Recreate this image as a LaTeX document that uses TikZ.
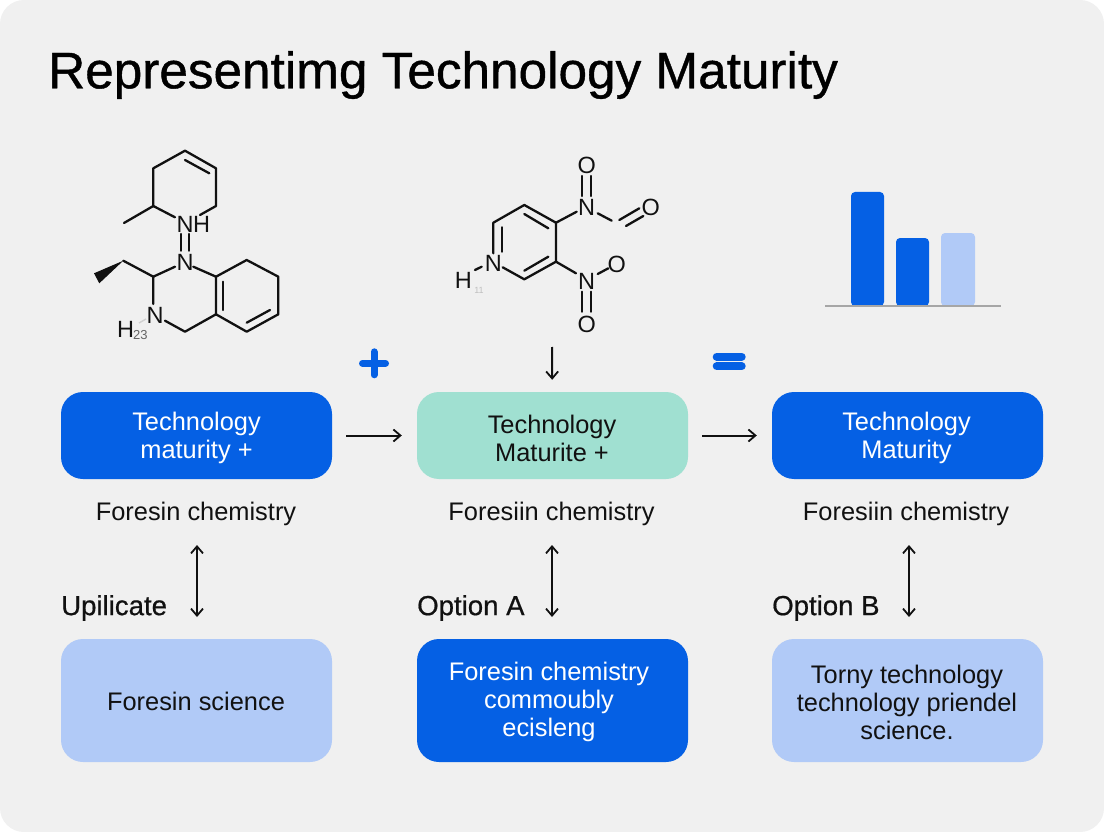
\documentclass[tikz,border=0pt]{standalone}
\usepackage{fontspec}
\setmainfont{Liberation Sans}
\newfontfamily\medfont[FakeBold=0.8]{Liberation Sans}
\newfontfamily\optfont[FakeBold=0.6]{Liberation Sans}
\usetikzlibrary{arrows.meta}
\definecolor{pagebg}{HTML}{F0F0F0}
\definecolor{bluebox}{HTML}{0560E4}
\definecolor{tealbox}{HTML}{A0E0D1}
\definecolor{lightbox}{HTML}{B1CAF7}
\definecolor{ink}{HTML}{111111}
\tikzset{
  box/.style={rounded corners=22pt,minimum width=271pt,inner sep=0pt},
  rowa/.style={box,minimum height=87pt},
  rowb/.style={box,minimum height=123pt},
  fillblue/.style={fill=bluebox},
  fillteal/.style={fill=tealbox},
  filllight/.style={fill=lightbox},
  boxtext/.style={align=center,inner sep=0pt,font=\fontsize{25.4}{28}\selectfont},
  caption/.style={font=\fontsize{25.4}{28}\selectfont,text=ink,inner sep=0pt},
  optlabel/.style={font=\fontsize{27.6}{30}\optfont,text=ink,inner sep=0pt,anchor=west},
  barb/.style={Straight Barb[length=7pt,width=12pt,line width=1.8pt]},
  conn/.style={draw=ink,line width=2pt,-{Straight Barb[length=7pt,width=12pt,line width=1.8pt]}},
  dconn/.style={draw=ink,line width=2pt,{Straight Barb[length=7pt,width=12pt,line width=1.8pt]}-{Straight Barb[length=7pt,width=12pt,line width=1.8pt]}},
  bond/.style={draw=ink,line width=2.3pt,line cap=round,line join=round},
  faint/.style={draw=black!18,line width=1.4pt},
  atom/.style={font=\fontsize{23.5}{23.5}\selectfont,text=ink,inner sep=0pt},
}
\begin{document}
\begin{tikzpicture}[x=1pt,y=-1pt]
\useasboundingbox (0,0) rectangle (1104,832);
\fill[white] (0,0) rectangle (1104,832);
\fill[pagebg,rounded corners=24pt] (0,0) rectangle (1104,832);
\node[anchor=west,inner sep=0pt,text=black,font=\fontsize{51.3}{51.3}\medfont] (title) at (48,75) {Representimg Technology Maturity};

% molecule 1
\draw[bond] (175,217.3) -- (153.3,206) -- (153.3,168.3) -- (185,150.7) -- (216,168.3) -- (216,206) -- (200,215);
\draw[bond] (185,160) -- (209.3,173.3);
\draw[bond] (153.3,206) -- (124,223);
\node[atom] (n1) at (185,224.5) {N};
\node[atom] (h1) at (201.5,224.5) {H};
\draw[bond] (181,234) -- (181,250.7);
\draw[bond] (189,234) -- (189,250.7);
\node[atom] (n2) at (185,262.5) {N};
\draw[bond] (175,266.7) -- (153.3,276.7) -- (153.3,304);
\draw[bond] (153.3,276.7) -- (123.3,260.7);
\fill[ink] (123.3,260.7) -- (94,273.3) -- (99.3,283.3) -- cycle;
\draw[bond] (193.3,266.7) -- (216,276.7) -- (216,314.3) -- (185,331.7) -- (165,320.7);
\draw[bond] (216,276.7) -- (246.7,260) -- (278.3,276.7) -- (278.3,314.3) -- (246.7,331.7) -- (216,314.3);
\draw[bond] (223.3,281.7) -- (223.3,310);
\draw[bond] (246.7,322.7) -- (270,310);
\node[atom] (n3) at (155,315) {N};
\node[atom,anchor=west] (h3) at (117,329) {H};
\node[anchor=west,inner sep=0pt,font=\fontsize{13}{13}\selectfont,text=ink!65] (h3s) at (133,335) {23};
\draw[faint] (139,323) -- (146,319);

% molecule 2
\draw[bond] (493.3,253.3) -- (493.3,222.7) -- (524.3,205) -- (556,222.7) -- (556,261.7) -- (524.3,279.3) -- (502.7,267.3);
\draw[bond] (501.7,227.3) -- (501.7,251.7);
\draw[bond] (524.3,214) -- (548.3,228.3);
\draw[bond] (524.3,270.7) -- (548.3,256.7);
\node[atom] (n4) at (493.3,263.5) {N};
\node[atom] (h4) at (463.3,280) {H};
\node[inner sep=0pt,font=\fontsize{9}{9}\selectfont,text=black!25] (h4s) at (479,290) {11};
\draw[bond] (475,270) -- (481.7,266.7);
\node[atom] (n5) at (586.7,207.7) {N};
\node[atom] (n6) at (586.7,281) {N};
\node[atom] (o1) at (586.7,165) {O};
\node[atom] (o2) at (650.7,207.3) {O};
\node[atom] (o3) at (616.7,264) {O};
\node[atom] (o4) at (586.7,324) {O};
\draw[bond] (556,222.7) -- (576.7,211.7);
\draw[bond] (582,176) -- (582,196);
\draw[bond] (591,176) -- (591,196);
\draw[bond] (597.7,213.3) -- (611.7,220.7);
\draw[bond] (619.3,220) -- (639.3,208.3);
\draw[bond] (626,226) -- (643.3,216);
\draw[bond] (556,261.7) -- (576,273.3);
\draw[bond] (597.7,274) -- (608.3,268.3);
\draw[bond] (582,291.7) -- (582,311.7);
\draw[bond] (591,291.7) -- (591,311.7);

% bar chart
\fill[bluebox,rounded corners=4pt] (851,306) -- (851,192) -- (884,192) -- (884,306) -- cycle;
\fill[bluebox,rounded corners=4pt] (896,306) -- (896,238) -- (929,238) -- (929,306) -- cycle;
\fill[lightbox,rounded corners=4pt] (941,306) -- (941,233) -- (975,233) -- (975,306) -- cycle;
\draw[draw=black!35,line width=1.5pt] (825,306) -- (1001,306);

% plus / equals
\draw[draw=bluebox,line width=7pt,line cap=round] (362.5,363.3) -- (385.5,363.3);
\draw[draw=bluebox,line width=7pt,line cap=round] (374,351.8) -- (374,374.8);
\draw[draw=bluebox,line width=8pt,line cap=round] (716.7,356.7) -- (741.7,356.7);
\draw[draw=bluebox,line width=8pt,line cap=round] (716.7,366.3) -- (741.7,366.3);

% boxes
\node[rowa,fillblue] (a1) at (196.5,435.5) {};
\node[rowa,fillteal] (a2) at (552.5,435.5) {};
\node[rowa,fillblue] (a3) at (907.5,435.5) {};
\node[rowb,filllight] (b1) at (196.5,700.5) {};
\node[rowb,fillblue] (b2) at (552.5,700.5) {};
\node[rowb,filllight] (b3) at (907.5,700.5) {};
\node[boxtext,text=white] (a1t) at (196.5,438) {Technology\\maturity +};
\node[boxtext,text=ink] (a2t) at (552,438) {Technology\\Maturite +};
\node[boxtext,text=white] (a3t) at (906.5,438) {Technology\\Maturity};
\node[boxtext,text=ink] (b1t) at (196,701.5) {Foresin science};
\node[boxtext,text=white] (b2t) at (549,702) {Foresin chemistry\\commoubly\\ecisleng};
\node[boxtext,text=ink] (b3t) at (907,702) {Torny technology\\technology priendel\\science.};

\node[caption] (c1) at (196,514) {Foresin chemistry};
\node[caption] (c2) at (551.5,514) {Foresiin chemistry};
\node[caption] (c3) at (906,514) {Foresiin chemistry};
\node[optlabel] (o1l) at (61,608) {Upilicate};
\node[optlabel] (o2l) at (417,608) {Option A};
\node[optlabel] (o3l) at (772,608) {Option B};

% connectors
\coordinate (top2) at (552,347);
\coordinate (s1) at (197,545);
\coordinate (e1) at (197,617);
\coordinate (s2) at (552,545);
\coordinate (e2) at (552,617);
\coordinate (s3) at (909,545);
\coordinate (e3) at (909,617);
\draw[conn,shorten <=14pt,shorten >=15pt] (a1) -- (a2);
\draw[conn,shorten <=14pt,shorten >=15pt] (a2) -- (a3);
\draw[conn,shorten >=12pt] (top2) -- (a2);
\draw[dconn] (s1) -- (e1);
\draw[dconn] (s2) -- (e2);
\draw[dconn] (s3) -- (e3);
\end{tikzpicture}
\end{document}
